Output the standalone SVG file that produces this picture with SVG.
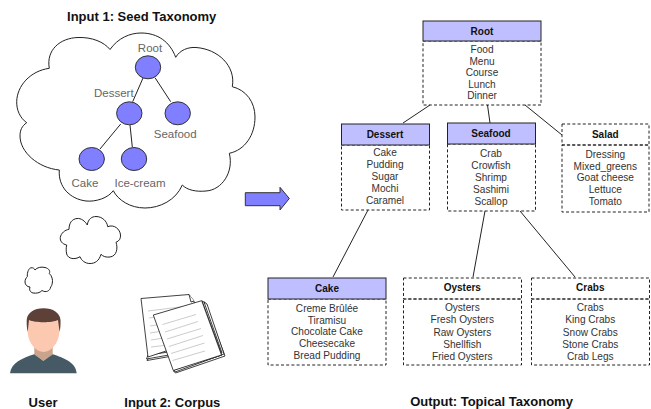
<svg xmlns="http://www.w3.org/2000/svg" width="651" height="409" viewBox="0 0 651 409">
<style>
text{font-family:"Liberation Sans",Arial,sans-serif;text-anchor:middle}
.t{font-size:13px;font-weight:bold;fill:#111}
.h{font-size:10px;font-weight:bold;fill:#111}
.b{font-size:10.100px;fill:#333}
.l{font-size:11.500px;fill:#666}
.e{stroke:#222;stroke-width:1;fill:none}
.c{fill:#fff;stroke:#222;stroke-width:1}
.n{fill:#7f7fff;stroke:#333;stroke-width:1}
.hd{fill:#bfbfff;stroke:#222;stroke-width:1}
.d{fill:none;stroke:#222;stroke-width:1;stroke-dasharray:3 2.200}
.g{stroke:#aaa;stroke-width:.6;fill:none}
.p{fill:#fff;stroke:#111;stroke-width:.8;stroke-linejoin:round}
</style>
<rect width="651" height="409" fill="#fff"/>
<text class="t" x="141.700" y="20.700">Input 1: Seed Taxonomy</text>
<path id="cloud-big" class="c" d="M110 49.500C118 38 130 33 141 33C158 33 170 42 175.700 57.300C180 50 188 47 196 47.500C218 49 236 66 232.300 86.700C246 90 255 102 255 117C255 135 245 150 229.300 153.300C234 172 222 190 206 191C196 192 187 190 182.300 185C176 200 160 208 145 208C130 208 118 200 113.300 190.700C108 198 96 202 86 201C70 199 58 187 59.300 170C38 168 20 152 20 136C20 130 22 126 26.700 122.700C20 118 16.500 110 16.700 101.700C17 86 30 71 49.300 68.300C46 50 60 38 78 37.500C92 37 104 42 110 49.500Z"/>
<path id="cloud-mid" class="c" d="M87.300 225C88 219 92 216.500 96 216.500C102 216.500 107 221 107.700 226.700C114 224 120 229 120.500 235C120.800 239 119 241 116 242.300C118 248 117 256 110 257C106 257.500 103 256.500 101 254.300C99 261 95 263.500 90 263.500C85 263.500 81.500 260.500 80 256.700C75 260 68 259 66.700 254C66 251 66 248 66.700 245C62 244 60 241 60.300 237.500C61 233 65 230 69 229.300C69 223 72 219 77 218.500C81 218 85 221 87.300 225Z"/>
<path id="cloud-small" class="c" d="M35 270C37 267.500 41 266.500 45 267.500C49 268.500 50.500 271 49.300 273.500C52 276 53 280 52.300 283C52 285 51.500 286 50.700 287C50 291 46 293 42 290.500C40 293 36 293.500 33 293C30 292 29 290 30 287C27 287 25 284.500 25 282C25 279.500 26 278 27.300 276.700C27 272 29 268 31 267.800C33 267.500 34.500 268.500 35 270Z"/>
<g id="tree-edges">
<path class="e" d="M143 78L132.700 101.700M155 77.700L170.700 101.700M120.700 124L100 149M130 125L132.300 147"/>
</g>
<g id="seed-root"><ellipse class="n" cx="148" cy="67.300" rx="12.700" ry="11.500"/><text class="l" x="150" y="51.700">Root</text></g>
<g id="seed-dessert"><ellipse class="n" cx="129.300" cy="113.300" rx="12.700" ry="11.500"/><text class="l" x="113.800" y="97.300">Dessert</text></g>
<g id="seed-seafood"><ellipse class="n" cx="177.700" cy="113.300" rx="12.700" ry="11.500"/><text class="l" x="175.200" y="137.700">Seafood</text></g>
<g id="seed-cake"><ellipse class="n" cx="91.700" cy="159" rx="12.700" ry="11.500"/><text class="l" x="85" y="186.700">Cake</text></g>
<g id="seed-icecream"><ellipse class="n" cx="134" cy="159" rx="12.700" ry="11.500"/><text class="l" x="140" y="186.700">Ice-cream</text></g>
<path id="big-arrow" d="M245.300 192.700H280V187.300L289.300 198.500L280 210V205.700H245.300Z" fill="#7f7fff" stroke="#333" stroke-width="1"/>
<g id="user">
<path d="M10 373.300C11 363 22 358 35 354L43.300 360.700L52 354C65 358 76 363 76.700 373.300Z" fill="#455a64"/>
<path d="M34.300 345H52.700V354.500L43.300 361L34.300 354.500Z" fill="#c9a38c"/>
<path d="M27.700 320V333C28.500 343 36 352 43.500 352C51 352 58.500 343 59.300 333V320Z" fill="#fcc9b0"/>
<path d="M26.700 320C27 313 34 308.300 43.500 308.300C53 308.300 60 313 60.500 320C60.700 325 60.300 329 59.600 332L58 320C52 323 35 323 29 320L27.700 332C27 329 26.500 325 26.700 320Z" fill="#5d4037"/>
</g>
<text class="t" x="43" y="407">User</text>
<g id="corpus">
<path class="p" d="M147 360.500L195 352L198 349L150 356Z"/>
<path class="p" d="M146.500 359L194 350.500L196 348L148 355Z"/>
<path class="p" d="M141 298.500L189 294.500L194 301L199 340L148 357Z"/>
<path class="p" d="M189 294.500L191 302L194 301"/>
<path class="g" d="M148 311L188 306M149 318L186 313M150 326L176 322M150 333L176 329M151 340L176 336M151 347L176 344"/>
<path class="p" d="M205 302.500L225 356L175.500 373L173.500 371L222 355L202 301Z"/>
<path class="p" d="M207 304L224 354L175 372L174 370L222 353L204 302Z"/>
<path class="p" d="M153.300 315L201.700 300.700L221.500 355L173.300 370.500Z"/>
<path class="g" d="M162.500 324.500L196 314.500M165 332L198 321.500M167 339L201 328.500M169 346.500L203 335.500M171 353.500L204.500 343M172.500 360.500L205 351"/>
</g>
<text class="t" x="172.300" y="407">Input 2: Corpus</text>
<g id="connectors">
<path class="e" d="M430 105L403 123M487.500 105L490 123M525 105L562 135M368 210L333 277M485 211L473 277M520 211L575 277"/>
</g>
<g id="root">
<rect class="d" x="423" y="41" width="118" height="64"/><rect class="hd" x="423" y="21" width="118" height="20"/>
<text class="h" x="482" y="35">Root</text>
<text class="b" x="482" y="53.300">Food</text><text class="b" x="482" y="64.500">Menu</text><text class="b" x="482" y="76">Course</text><text class="b" x="482" y="87.700">Lunch</text><text class="b" x="482" y="99">Dinner</text>
</g>
<g id="dessert">
<rect class="d" x="341.500" y="145" width="88" height="65"/><rect class="hd" x="341.500" y="124" width="88" height="21"/>
<text class="h" x="385" y="138">Dessert</text>
<text class="b" x="385" y="156">Cake</text><text class="b" x="385" y="168.300">Pudding</text><text class="b" x="385" y="180">Sugar</text><text class="b" x="385" y="192">Mochi</text><text class="b" x="385" y="204">Caramel</text>
</g>
<g id="seafood">
<rect class="d" x="447.500" y="144" width="88" height="67"/><rect class="hd" x="447.500" y="123" width="88" height="21"/>
<text class="h" x="491" y="137">Seafood</text>
<text class="b" x="491" y="157">Crab</text><text class="b" x="491" y="169">Crowfish</text><text class="b" x="491" y="181">Shrimp</text><text class="b" x="491" y="193">Sashimi</text><text class="b" x="491" y="205">Scallop</text>
</g>
<g id="salad">
<rect class="d" x="562" y="124" width="87" height="21"/><rect class="d" x="562" y="145" width="87" height="67"/>
<text class="h" x="605.300" y="138">Salad</text>
<text class="b" x="605.300" y="158">Dressing</text><text class="b" x="605.300" y="170">Mixed_greens</text><text class="b" x="605.300" y="181">Goat cheese</text><text class="b" x="605.300" y="193">Lettuce</text><text class="b" x="605.300" y="205">Tomato</text>
</g>
<g id="cake">
<rect class="d" x="268" y="299" width="118" height="66"/><rect class="hd" x="268" y="278" width="118" height="21"/>
<text class="h" x="327" y="292">Cake</text>
<text class="b" x="327" y="312">Creme Brûlée</text><text class="b" x="327" y="324">Tiramisu</text><text class="b" x="327" y="335.300">Chocolate Cake</text><text class="b" x="327" y="347">Cheesecake</text><text class="b" x="327" y="359">Bread Pudding</text>
</g>
<g id="oysters">
<rect class="d" x="403.500" y="278" width="118" height="21"/><rect class="d" x="403.500" y="299" width="118" height="66"/>
<text class="h" x="462.300" y="291">Oysters</text>
<text class="b" x="462.300" y="311">Oysters</text><text class="b" x="462.300" y="323">Fresh Oysters</text><text class="b" x="462.300" y="336">Raw Oysters</text><text class="b" x="462.300" y="348">Shellfish</text><text class="b" x="462.300" y="360">Fried Oysters</text>
</g>
<g id="crabs">
<rect class="d" x="531.500" y="278" width="118" height="21"/><rect class="d" x="531.500" y="299" width="118" height="66"/>
<text class="h" x="590.300" y="291">Crabs</text>
<text class="b" x="590.300" y="311">Crabs</text><text class="b" x="590.300" y="323">King Crabs</text><text class="b" x="590.300" y="336">Snow Crabs</text><text class="b" x="590.300" y="348">Stone Crabs</text><text class="b" x="590.300" y="360">Crab Legs</text>
</g>
<text class="t" x="491.500" y="406">Output: Topical Taxonomy</text>
</svg>
